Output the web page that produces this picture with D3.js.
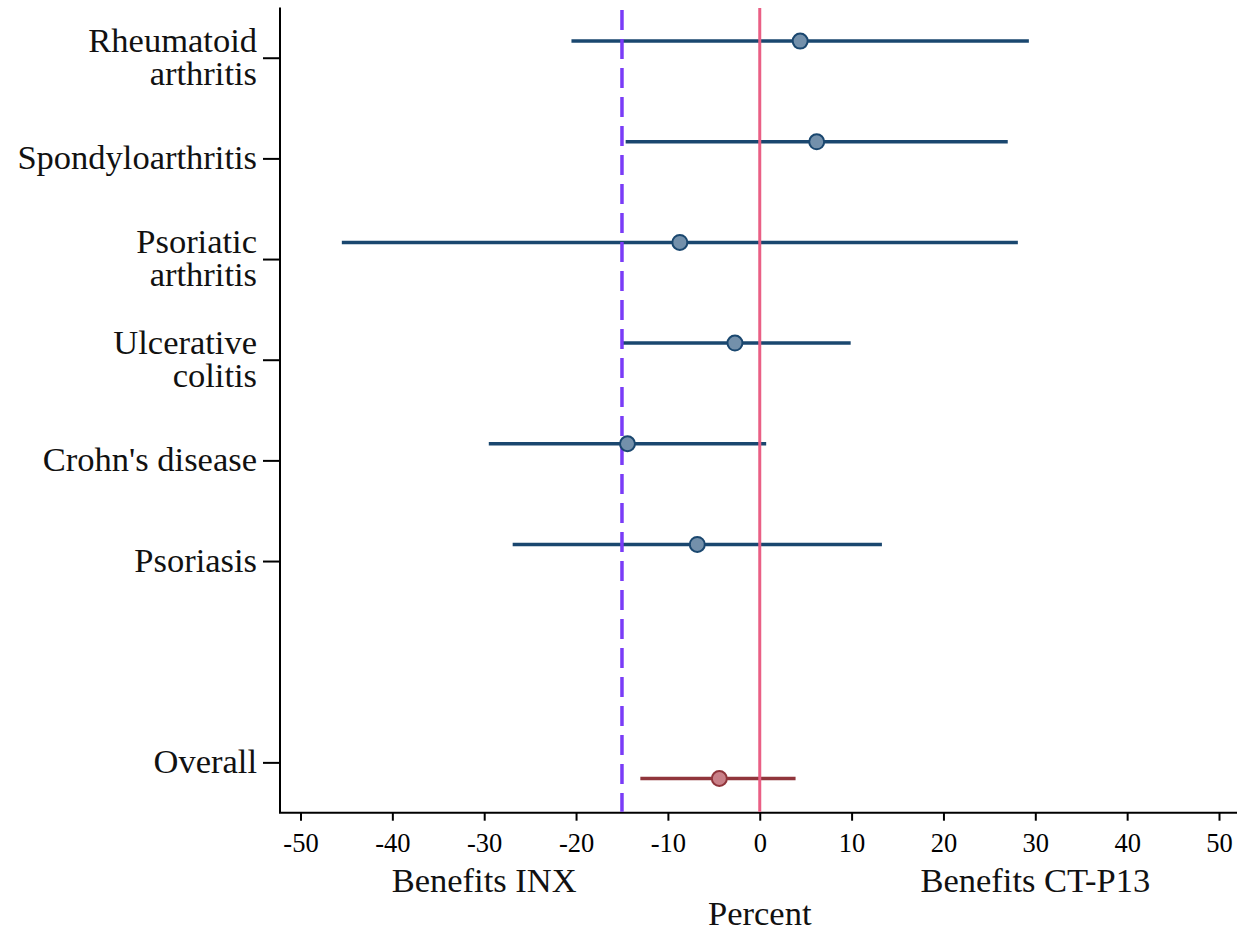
<!DOCTYPE html>
<html>
<head>
<meta charset="utf-8">
<script src="https://cdn.jsdelivr.net/npm/d3@7/dist/d3.min.js"></script>
<style>
  body { margin: 0; background: #fff; }
  svg { display: block; font-family: "Liberation Serif", "Times New Roman", serif; }
</style>
</head>
<body>
<div id="chart"></div>
<script>
// Forest plot: difference in percent, by indication
var labels = [["Rheumatoid", "arthritis"], ["Spondyloarthritis"], ["Psoriatic", "arthritis"],
    ["Ulcerative", "colitis"], ["Crohn's disease"], ["Psoriasis"], ["Overall"]];
var rowPos = [1, 2, 3, 4, 5, 6, 8];
var markerPos = [0.835, 1.835, 2.835, 3.835, 4.835, 5.835, 8.16];
var estimates = [4.4, 6.2, -8.7, -2.7, -14.4, -6.8, -4.4];
var lower = [-20.5, -14.6, -45.5, -15.1, -29.5, -26.9, -13.0];
var upper = [29.3, 27.0, 28.1, 9.9, 0.7, 13.3, 3.9];
var isOverall = [false, false, false, false, false, false, true];
var xTicks = [-50, -40, -30, -20, -10, 0, 10, 20, 30, 40, 50];
var margin = -15;   // non-inferiority margin
var sideLabels = [{ value: -30, text: "Benefits INX" }, { value: 30, text: "Benefits CT-P13" }];

var width = 1237, height = 933;
var axisLeftX = 280, axisBottomY = 812.7;

var svg = d3.select("#chart").append("svg")
    .attr("width", width)
    .attr("height", height);

var x = d3.scaleLinear().domain([-50, 50]).range([300.5, 1219]);
var y = d3.scaleLinear().domain([0.5, 8.5]).range([7.4, axisBottomY]);

var rows = labels.map(function (l, i) {
    return { label: l, pos: rowPos[i], mpos: markerPos[i], est: estimates[i],
        lo: lower[i], hi: upper[i], overall: isOverall[i] };
});

// axis lines
svg.append("line")
    .attr("x1", axisLeftX).attr("x2", axisLeftX)
    .attr("y1", 7.4).attr("y2", axisBottomY)
    .attr("stroke", "#000").attr("stroke-width", 2);
svg.append("line")
    .attr("x1", axisLeftX - 1).attr("x2", width)
    .attr("y1", axisBottomY).attr("y2", axisBottomY)
    .attr("stroke", "#000").attr("stroke-width", 2);

// x axis
var xAxis = svg.append("g")
    .attr("transform", "translate(0," + axisBottomY + ")")
    .call(d3.axisBottom(x).tickValues(xTicks).tickSize(8).tickFormat(function (d) { return String(d); }));
xAxis.select(".domain").remove();
xAxis.selectAll("line").attr("stroke", "#000").attr("stroke-width", 2);
xAxis.selectAll("text")
    .attr("y", 39.5).attr("dy", 0)
    .attr("fill", "#000")
    .style("font-size", "26.5px")
    .style("font-family", "Liberation Serif, serif");

// y axis
var yAxis = svg.append("g")
    .attr("transform", "translate(" + axisLeftX + ",0)")
    .call(d3.axisLeft(y).tickValues(rowPos).tickSize(17).tickFormat(""));
yAxis.select(".domain").remove();
yAxis.selectAll("line").attr("stroke", "#000").attr("stroke-width", 2);

var labelG = svg.append("g");
rows.forEach(function (r) {
    var t = labelG.append("text")
        .attr("text-anchor", "end")
        .attr("fill", "#111")
        .style("font-size", "34.5px");
    var n = r.label.length;
    r.label.forEach(function (line, k) {
        var offset = (k - (n - 1) / 2) * 33 + 10.5;
        t.append("tspan")
            .attr("x", 257)
            .attr("y", y(r.pos) + offset)
            .text(line);
    });
});

// axis titles
svg.selectAll(".side-label")
    .data(sideLabels)
    .enter().append("text")
    .attr("class", "side-label")
    .attr("x", function (d) { return x(d.value); })
    .attr("y", 891.5)
    .attr("text-anchor", "middle")
    .attr("fill", "#111")
    .style("font-size", "34.5px")
    .text(function (d) { return d.text; });

svg.append("text")
    .attr("x", x(0))
    .attr("y", 925)
    .attr("text-anchor", "middle")
    .attr("fill", "#111")
    .style("font-size", "34.5px")
    .text("Percent");

// confidence intervals
svg.selectAll(".ci")
    .data(rows)
    .enter().append("line")
    .attr("class", "ci")
    .attr("x1", function (d) { return x(d.lo); })
    .attr("x2", function (d) { return x(d.hi); })
    .attr("y1", function (d) { return y(d.mpos); })
    .attr("y2", function (d) { return y(d.mpos); })
    .attr("stroke", function (d) { return d.overall ? "#90353b" : "#1a476f"; })
    .attr("stroke-width", 3.5);

// reference lines
svg.append("line")
    .attr("x1", x(margin)).attr("x2", x(margin))
    .attr("y1", 10).attr("y2", axisBottomY - 1)
    .attr("stroke", "#7a3cf7")
    .attr("stroke-width", 3.5)
    .attr("stroke-dasharray", "20,9");

svg.append("line")
    .attr("x1", x(0)).attr("x2", x(0))
    .attr("y1", 8).attr("y2", axisBottomY - 1)
    .attr("stroke", "#ea5f85")
    .attr("stroke-width", 3);

// point estimates
svg.selectAll(".est")
    .data(rows)
    .enter().append("circle")
    .attr("class", "est")
    .attr("cx", function (d) { return x(d.est); })
    .attr("cy", function (d) { return y(d.mpos); })
    .attr("r", 7.5)
    .attr("fill", function (d) { return d.overall ? "#c98088" : "#7390ab"; })
    .attr("stroke", function (d) { return d.overall ? "#90353b" : "#1a476f"; })
    .attr("stroke-width", 2);
</script>
</body>
</html>
